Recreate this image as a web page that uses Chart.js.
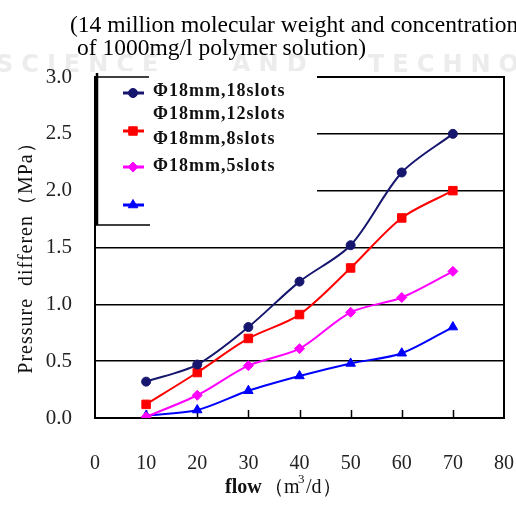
<!DOCTYPE html>
<html>
<head>
<meta charset="utf-8">
<script src="https://cdn.jsdelivr.net/npm/chart.js@4.4.0/dist/chart.umd.min.js"></script>
<style>
  html, body { margin: 0; padding: 0; background: #fff; }
  #wrap { width: 516px; height: 505px; }
</style>
</head>
<body>
<div id="wrap"><canvas id="grafico" width="516" height="505"></canvas></div>
<script>
// dados
let vazao = [10, 20, 30, 40, 50, 60, 70];
let slots18 = [0.32, 0.47, 0.80, 1.20, 1.52, 2.16, 2.50];
let slots8 = [0.12, 0.40, 0.70, 0.91, 1.32, 1.76, 2.00];
let slots5 = [0.01, 0.20, 0.46, 0.61, 0.93, 1.06, 1.29];
let semRotulo = [0.02, 0.07, 0.24, 0.37, 0.48, 0.57, 0.80];
let yTicks = [0, 0.5, 1.0, 1.5, 2.0, 2.5, 3.0];
let xTicks = [0, 10, 20, 30, 40, 50, 60, 70, 80];
let legenda = ['Φ18mm,18slots', 'Φ18mm,12slots', 'Φ18mm,8slots', 'Φ18mm,5slots'];
let titulo = ['(14 million molecular weight and concentration', 'of 1000mg/l polymer solution)'];

function pontos(serie) {
    return vazao.map((v, i) => ({ x: v, y: serie[i] }));
}

let serif = "'Liberation Serif', 'Times New Roman', serif";

// desenha fundo, marca d'água, títulos, moldura e legenda
let extras = {
    id: 'extras',
    beforeDraw(chart) {
        let ctx = chart.ctx;
        ctx.save();
        ctx.fillStyle = '#fff';
        ctx.fillRect(0, 0, chart.width, chart.height);
        ctx.fillStyle = '#ececec';
        ctx.font = "bold 24px 'DejaVu Sans', sans-serif";
        ctx.letterSpacing = '8px';
        ctx.textBaseline = 'alphabetic';
        ctx.fillText('SCIENCE', -4, 72);
        ctx.fillText('AND', 232, 72);
        ctx.fillText('TECHNOLOGY', 368, 72);
        ctx.letterSpacing = '0px';
        ctx.fillStyle = '#000';
        ctx.font = '23.5px ' + serif;
        ctx.fillText(titulo[0], 70, 32);
        ctx.fillText(titulo[1], 77, 55);
        ctx.restore();
    },
    beforeDatasetsDraw(chart) {
        let ctx = chart.ctx;
        let a = chart.chartArea;
        let xs = chart.scales.x;
        ctx.save();
        ctx.strokeStyle = '#000';
        ctx.lineWidth = 2;
        ctx.strokeRect(a.left, a.top, a.right - a.left, a.bottom - a.top);
        // marcas para dentro no eixo x
        ctx.lineWidth = 1.5;
        for (let v = 10; v <= 70; v += 10) {
            let px = Math.round(xs.getPixelForValue(v)) + 0.5;
            ctx.beginPath();
            ctx.moveTo(px, a.bottom);
            ctx.lineTo(px, a.bottom - 8);
            ctx.stroke();
        }
        ctx.restore();
    },
    afterDraw(chart) {
        let ctx = chart.ctx;
        let a = chart.chartArea;
        ctx.save();
        // caixa da legenda
        ctx.fillStyle = '#fff';
        ctx.fillRect(a.left + 1, a.top - 6, 221, 154);
        ctx.strokeStyle = '#000';
        ctx.lineWidth = 2.5;
        ctx.beginPath();
        ctx.moveTo(97, 73);
        ctx.lineTo(97, 225);
        ctx.stroke();
        ctx.lineWidth = 1.5;
        ctx.beginPath();
        ctx.moveTo(96, 77);
        ctx.lineTo(149, 77);
        ctx.moveTo(96, 225);
        ctx.lineTo(150, 225);
        ctx.stroke();

        let ds = chart.data.datasets;
        let linhas = [93, 131, 167, 205];
        ds.forEach((d, i) => {
            let y = linhas[i];
            ctx.strokeStyle = d.borderColor;
            ctx.lineWidth = 3;
            ctx.beginPath();
            ctx.moveTo(123, y);
            ctx.lineTo(144, y);
            ctx.stroke();
            ctx.fillStyle = d.backgroundColor;
            ctx.lineWidth = 1;
            Chart.helpers.drawPoint(ctx, {
                pointStyle: d.pointStyle, radius: d.pointRadius, rotation: 0, borderWidth: 1
            }, 133, y);
        });

        ctx.fillStyle = '#111';
        ctx.font = 'bold 18px ' + serif;
        ctx.letterSpacing = '1px';
        ctx.textBaseline = 'middle';
        let textoY = [91, 114, 139, 166];
        legenda.forEach((t, i) => ctx.fillText(t, 153, textoY[i]));

        // títulos dos eixos
        ctx.letterSpacing = '0px';
        ctx.font = 'bold 20px ' + serif;
        ctx.textBaseline = 'alphabetic';
        ctx.fillText('flow', 225, 493);
        ctx.font = '20px ' + serif;
        ctx.fillText('（m', 264, 493);
        ctx.font = '13px ' + serif;
        ctx.fillText('3', 298, 483);
        ctx.font = '20px ' + serif;
        ctx.fillText('/d）', 306, 493);

        ctx.translate(32, 253);
        ctx.rotate(-Math.PI / 2);
        ctx.textAlign = 'center';
        ctx.font = '20px ' + serif;
        ctx.letterSpacing = '1px';
        ctx.fillText('Pressure  differen（MPa）', 0, 0);
        ctx.restore();
    }
};

function criarGrafico() {
    let ctx = document.getElementById('grafico').getContext('2d');
    new Chart(ctx, {
        type: 'line',
        data: {
            datasets: [
                { label: legenda[0], data: pontos(slots18), borderColor: '#16166e', backgroundColor: '#16166e',
                  pointStyle: 'circle', pointRadius: 4.5 },
                { label: legenda[2], data: pontos(slots8), borderColor: '#ff0000', backgroundColor: '#ff0000',
                  pointStyle: 'rect', pointRadius: 6 },
                { label: legenda[3], data: pontos(slots5), borderColor: '#ff00ff', backgroundColor: '#ff00ff',
                  pointStyle: 'rectRot', pointRadius: 5 },
                { label: '', data: pontos(semRotulo), borderColor: '#0000ff', backgroundColor: '#0000ff',
                  pointStyle: 'triangle', pointRadius: 5.5 }
            ].map(d => Object.assign(d, { borderWidth: 2, tension: 0.3, pointBorderWidth: 1 }))
        },
        options: {
            responsive: false,
            animation: false,
            layout: { padding: { top: 77, right: 12, left: 0, bottom: 0 } },
            plugins: { legend: { display: false }, tooltip: { enabled: false } },
            scales: {
                x: {
                    type: 'linear', min: 0, max: 80,
                    afterFit: s => { s.height = 87; s.paddingLeft = 0; s.paddingRight = 0; },
                    afterBuildTicks: s => { s.ticks = xTicks.map(v => ({ value: v })); },
                    grid: { display: false, drawTicks: false },
                    border: { display: false },
                    ticks: { padding: 34, color: '#222', font: { family: serif, size: 20 } }
                },
                y: {
                    min: 0, max: 3,
                    afterFit: s => { s.width = 95; s.paddingTop = 0; s.paddingBottom = 0; },
                    afterBuildTicks: s => { s.ticks = yTicks.map(v => ({ value: v })); },
                    grid: { color: '#000', lineWidth: 1.5, drawTicks: false },
                    border: { display: false },
                    ticks: { padding: 23, color: '#222', font: { family: serif, size: 21 },
                             callback: v => v.toFixed(1) }
                }
            }
        },
        plugins: [extras]
    });
}

document.addEventListener('DOMContentLoaded', criarGrafico);
</script>
</body>
</html>
